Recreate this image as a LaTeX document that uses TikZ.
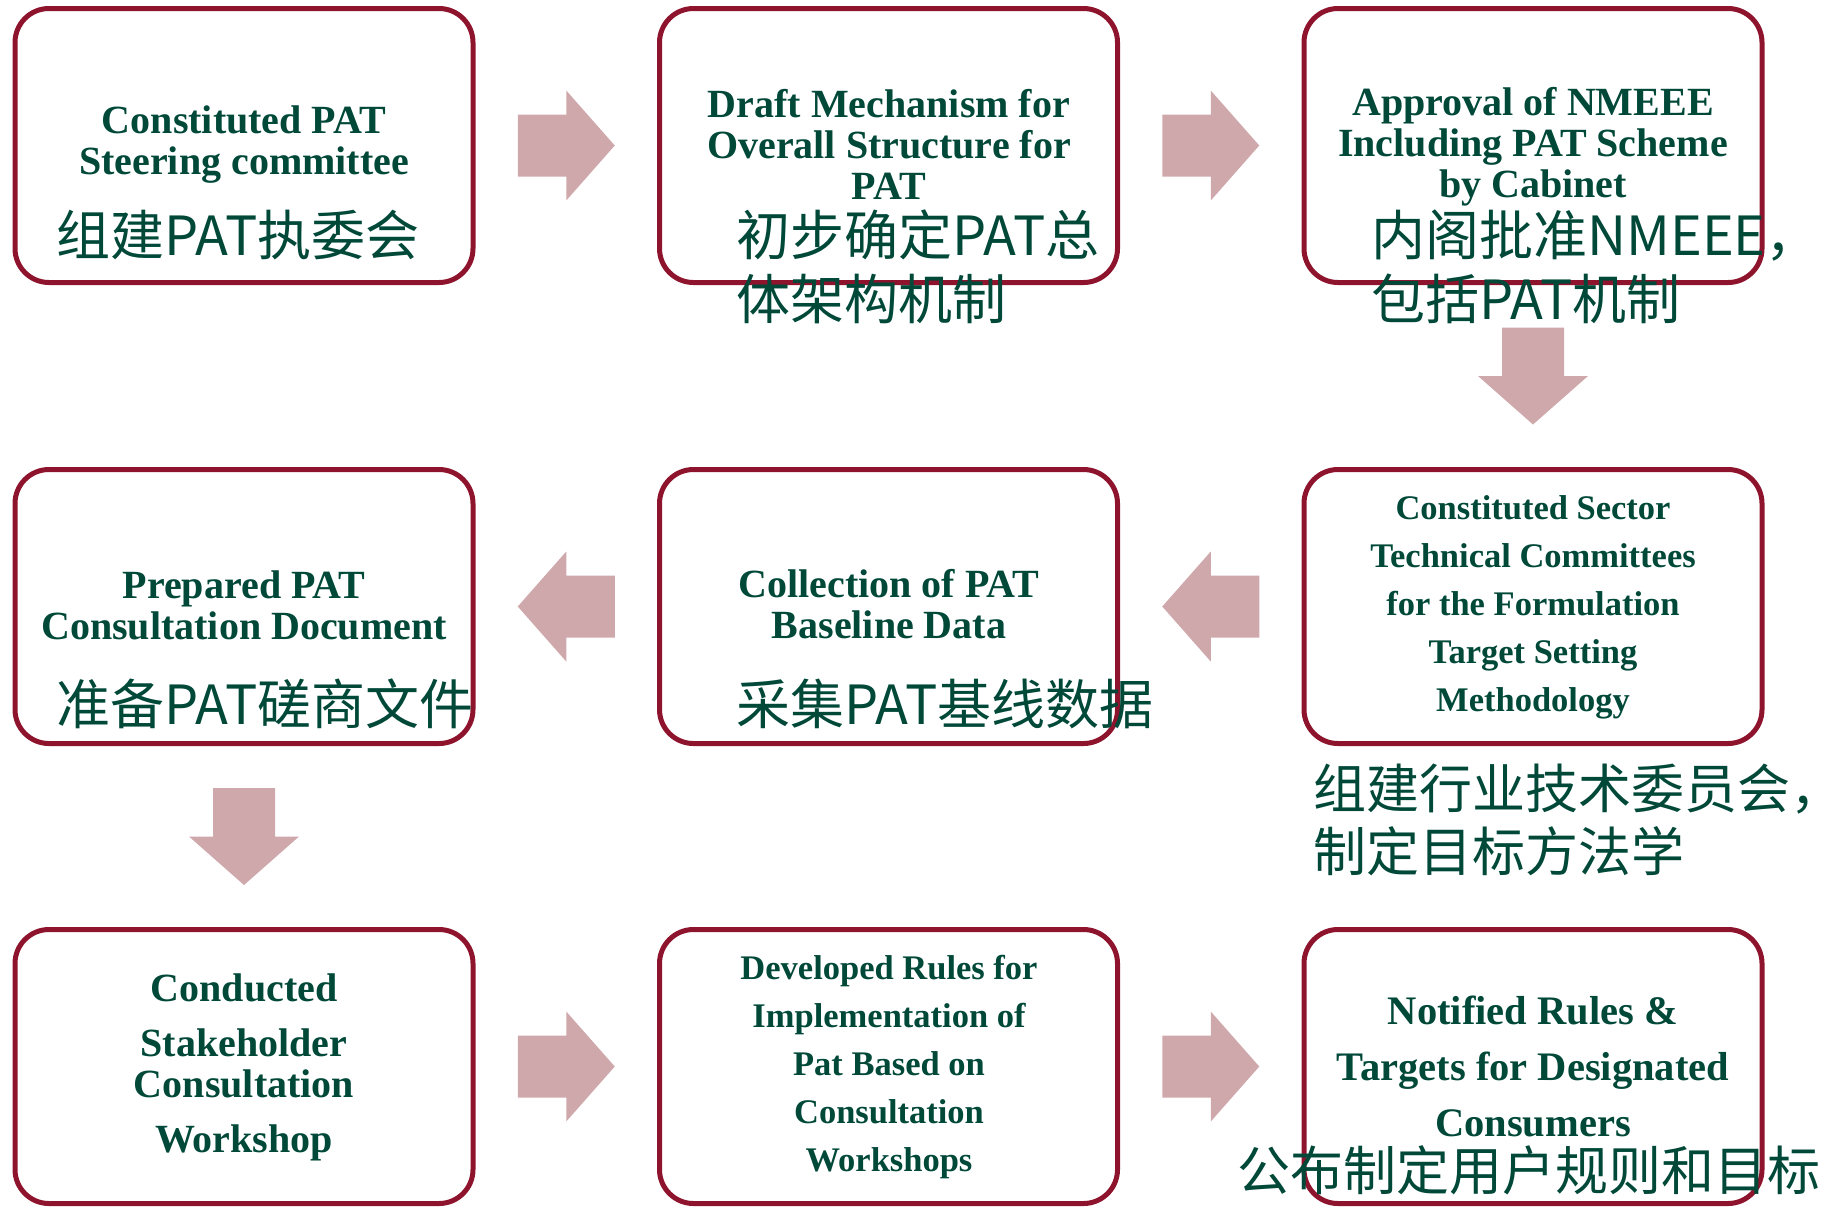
\documentclass[tikz,border=0pt]{standalone}
\usepackage{fontspec}
\setmainfont{Liberation Serif}
\newfontfamily\cjk{Noto Sans CJK SC}
\usetikzlibrary{calc}
\definecolor{boxred}{RGB}{142,20,46}
\definecolor{arrowpink}{RGB}{207,168,172}
\definecolor{textgreen}{RGB}{0,72,56}
\tikzset{
  stepbox/.style={draw=boxred, line width=2.5pt, rounded corners=17pt, minimum width=229pt, minimum height=137pt, inner sep=0pt},
  entext/.style={text=textgreen, font=\bfseries\fontsize{20}{20.5}\selectfont, align=center, inner sep=0pt},
  ensmall/.style={entext, font=\bfseries\fontsize{17.25}{24}\selectfont},
  cntext/.style={text=textgreen, font=\cjk\fontsize{27}{32}\selectfont, align=left, anchor=west, inner sep=0pt},
}
% block arrow pointing right, turned by #2
\newcommand{\blockarrow}[2]{%
  \fill[arrowpink, shift={#1}, rotate=#2] (-48.5,-31) -- (0,-31) -- (0,-55) -- (48.5,0) -- (0,55) -- (0,31) -- (-48.5,31) -- cycle;}

\begin{document}
\begin{tikzpicture}[x=0.5pt,y=-0.5pt]
\useasboundingbox (0,0) rectangle (1841,1206);

% Boxes
\node[stepbox] (b1) at (244,145.5) {};
\node[stepbox] (b2) at (888.5,145.5) {};
\node[stepbox] (b3) at (1533,145.5) {};
\node[stepbox] (b4) at (244,606.5) {};
\node[stepbox] (b5) at (888.5,606.5) {};
\node[stepbox] (b6) at (1533,606.5) {};
\node[stepbox] (b7) at (244,1066.5) {};
\node[stepbox] (b8) at (888.5,1066.5) {};
\node[stepbox] (b9) at (1533,1066.5) {};

% Block arrows
\blockarrow{($(b1.east)!0.5!(b2.west)$)}{0}
\blockarrow{($(b2.east)!0.5!(b3.west)$)}{0}
\blockarrow{($(b3.south)!0.5!(b6.north)$)}{-90}
\blockarrow{($(b6.west)!0.5!(b5.east)$)}{180}
\blockarrow{($(b5.west)!0.5!(b4.east)$)}{180}
\blockarrow{($(b4.south)!0.5!(b7.north)$)}{-90}
\blockarrow{($(b7.east)!0.5!(b8.west)$)}{0}
\blockarrow{($(b8.east)!0.5!(b9.west)$)}{0}

% English texts
\node[entext] (t1) at (244,145) {Constituted PAT\\Steering committee};
\node[entext] (t2) at (889,144) {Draft Mechanism for\\Overall Structure for\\PAT};
\node[entext] (t3) at (1533,147) {Approval of NMEEE\\Including PAT Scheme\\by Cabinet};
\node[entext] (t4) at (244,605) {Prepared PAT\\Consultation Document};
\node[entext] (t5) at (889,604) {Collection of PAT\\Baseline Data};
\node[ensmall] (t6) at (1533,607) {Constituted Sector\\Technical Committees\\for the Formulation\\Target Setting\\Methodology};
\node[entext] (t7) at (244,1067) {Conducted\\[7pt]Stakeholder\\Consultation\\[7pt]Workshop};
\node[ensmall] (t8) at (889,1067) {Developed Rules for\\Implementation of\\Pat Based on\\Consultation\\Workshops};
\node[entext, font=\bfseries\fontsize{20.25}{28}\selectfont] (t9) at (1533,1066) {Notified Rules \&\\Targets for Designated\\Consumers};

% Chinese texts
\node[cntext] (c1) at (56,235) {组建PAT执委会};
\node[cntext] (c2) at (736,267) {初步确定PAT总\\体架构机制};
\node[cntext] (c3) at (1371,267) {内阁批准NMEEE，\\包括PAT机制};
\node[cntext] (c4) at (56,704) {准备PAT磋商文件};
\node[cntext] (c5) at (736,704) {采集PAT基线数据};
\node[cntext, font=\cjk\fontsize{26.5}{31.5}\selectfont] (c6) at (1313,820) {组建行业技术委员会，\\制定目标方法学};
\node[cntext, font=\cjk\fontsize{26.5}{32}\selectfont] (c9) at (1237,1170) {公布制定用户规则和目标};

\end{tikzpicture}
\end{document}
